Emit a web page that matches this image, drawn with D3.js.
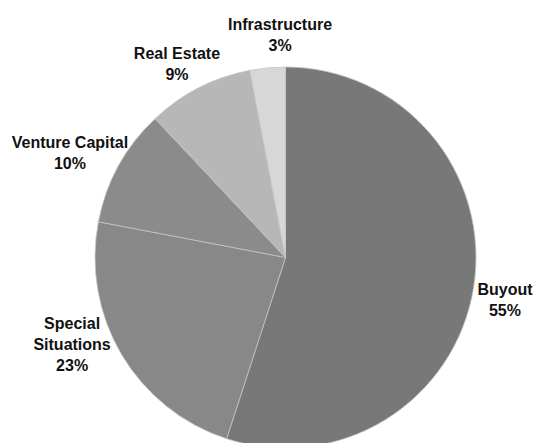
<!DOCTYPE html>
<html>
<head>
<meta charset="utf-8">
<script src="https://cdn.jsdelivr.net/npm/d3@7"></script>
<style>
  html, body { margin: 0; padding: 0; background: #ffffff; }
  svg { display: block; }
  text { font-family: "Liberation Sans", Arial, sans-serif; font-weight: bold; font-size: 16px; fill: #111111; }
</style>
</head>
<body>
<svg id="chart" width="534" height="443"></svg>
<script>
// ---- data ----
const categories = ["Buyout", "Special Situations", "Venture Capital", "Real Estate", "Infrastructure"];
const values = [55, 23, 10, 9, 3];
const labelLines = [["Buyout"], ["Special", "Situations"], ["Venture Capital"], ["Real Estate"], ["Infrastructure"]];

// ---- layout / style ----
const W = 534, H = 443;
const cx = 285.5, cy = 257.5, R = 190.5;
const colors = ["#787878", "#888888", "#8b8b8b", "#b7b7b7", "#d7d7d7"];
// label placement in polar form (angle in degrees clockwise from 12 o'clock, distance as multiple of R)
const labelPolar = [[100.8, 1.173], [247.8, 1.21], [296, 1.259], [330.8, 1.168], [358.6, 1.172]];
const lineH = 21, capH = 11.5;

const svg = d3.select("#chart");
const g = svg.append("g").attr("transform", `translate(${cx},${cy})`);

const pie = d3.pie().sort(null).value(d => d.value).startAngle(0).endAngle(2 * Math.PI);
const data = categories.map((c, i) => ({ name: c, value: values[i], lines: labelLines[i], i }));
const arcs = pie(data);
const arc = d3.arc().innerRadius(0).outerRadius(R);

g.selectAll("path.slice")
  .data(arcs)
  .join("path")
  .attr("class", "slice")
  .attr("d", arc)
  .attr("fill", d => colors[d.data.i])
  .attr("stroke", "#c4c4c4")
  .attr("stroke-width", 0.8);

const total = d3.sum(values);
g.selectAll("text.lbl")
  .data(arcs)
  .join("text")
  .attr("class", "lbl")
  .attr("text-anchor", "middle")
  .each(function(d) {
    const [deg, k] = labelPolar[d.data.i];
    const a = deg * Math.PI / 180;
    const x = Math.sin(a) * R * k;
    const y = -Math.cos(a) * R * k;
    const lines = d.data.lines.concat([Math.round(d.data.value / total * 100) + "%"]);
    const blockH = capH + (lines.length - 1) * lineH;
    const firstBaseline = y - blockH / 2 + capH;
    const t = d3.select(this);
    lines.forEach((ln, j) => {
      t.append("tspan")
        .attr("x", x)
        .attr("y", firstBaseline + j * lineH)
        .text(ln);
    });
  });
</script>
</body>
</html>
